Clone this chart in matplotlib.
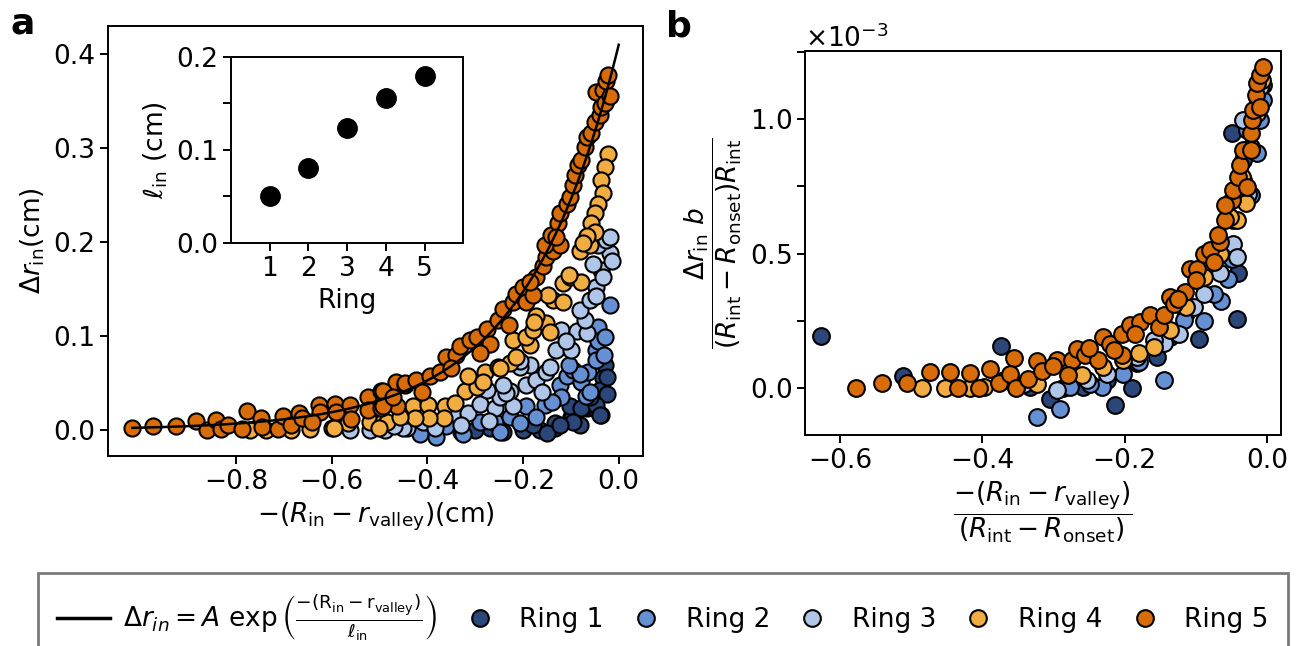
import numpy as np
import matplotlib
matplotlib.use("Agg")
import matplotlib.pyplot as plt
from matplotlib.lines import Line2D
from matplotlib.ticker import MultipleLocator, ScalarFormatter

plt.rcParams["font.family"] = ["DejaVu Sans"]
plt.rcParams["font.size"] = 19
plt.rcParams["axes.linewidth"] = 1.4
for ax_name in ["xtick", "ytick"]:
    plt.rcParams[ax_name + ".major.size"] = 6
    plt.rcParams[ax_name + ".major.width"] = 1.4
    plt.rcParams[ax_name + ".minor.size"] = 6
    plt.rcParams[ax_name + ".minor.width"] = 1.4

ring_names = ["Ring 1", "Ring 2", "Ring 3", "Ring 4", "Ring 5"]
ring_colors = ["#2b4678", "#6690d4", "#b0c6e8", "#f2ad42", "#d86c08"]

# panel a: -(R_in - r_valley) [cm], delta r_in [cm]
a_ring1 = [(-0.029, 0.069), (-0.033, 0.055), (-0.040, 0.043), (-0.036, 0.016), (-0.067, 0.023),
           (-0.099, 0.014), (-0.081, 0.005), (-0.134, 0.002), (-0.165, 0.000), (-0.200, 0.000),
           (-0.242, -0.002), (-0.269, 0.002), (-0.025, 0.056), (-0.025, 0.038), (-0.047, 0.022),
           (-0.076, 0.023), (-0.098, 0.013), (-0.134, 0.007), (-0.150, -0.003), (-0.102, 0.025),
           (-0.078, 0.023), (-0.047, 0.027), (-0.040, 0.016), (-0.095, 0.009), (-0.123, 0.005),
           (-0.300, 0.000), (-0.330, -0.002), (-0.180, 0.005), (-0.060, 0.035)]
a_ring2 = [(-0.416, -0.004), (-0.395, 0.007), (-0.325, -0.004), (-0.290, 0.009), (-0.259, 0.009),
           (-0.228, 0.014), (-0.193, 0.025), (-0.155, 0.027), (-0.123, 0.048), (-0.109, 0.057),
           (-0.095, 0.064), (-0.078, 0.051), (-0.064, 0.062), (-0.047, 0.085), (-0.047, 0.108),
           (-0.019, 0.133), (-0.043, 0.110), (-0.081, 0.060), (-0.120, 0.035), (-0.172, 0.014),
           (-0.207, 0.007), (-0.249, -0.002), (-0.360, 0.004), (-0.044, 0.095), (-0.029, 0.099),
           (-0.047, 0.075), (-0.069, 0.036), (-0.104, 0.069), (-0.381, -0.007), (-0.140, 0.030),
           (-0.060, 0.040), (-0.030, 0.080)]
a_ring3 = [(-0.489, 0.000), (-0.443, 0.002), (-0.409, 0.009), (-0.384, 0.002), (-0.346, 0.018),
           (-0.315, 0.018), (-0.290, 0.028), (-0.259, 0.023), (-0.249, 0.035), (-0.228, 0.041),
           (-0.193, 0.048), (-0.172, 0.053), (-0.186, 0.069), (-0.151, 0.062), (-0.144, 0.067),
           (-0.207, 0.067), (-0.130, 0.085), (-0.099, 0.085), (-0.120, 0.106), (-0.088, 0.105),
           (-0.067, 0.103), (-0.071, 0.117), (-0.081, 0.128), (-0.061, 0.138), (-0.047, 0.152),
           (-0.036, 0.170), (-0.019, 0.188), (-0.054, 0.177), (-0.043, 0.197), (-0.026, 0.202),
           (-0.018, 0.205), (-0.015, 0.180), (-0.033, 0.163), (-0.047, 0.143), (-0.451, 0.002),
           (-0.562, 0.000), (-0.520, 0.000), (-0.470, 0.004), (-0.110, 0.095), (-0.160, 0.040),
           (-0.220, 0.025), (-0.270, 0.010), (-0.330, 0.005), (-0.235, 0.039), (-0.207, 0.073),
           (-0.242, 0.048), (-0.276, 0.043)]
a_ring4 = [(-0.771, 0.000), (-0.736, 0.000), (-0.684, 0.000), (-0.645, 0.001), (-0.600, 0.002),
           (-0.565, 0.007), (-0.520, 0.009), (-0.492, 0.009), (-0.443, 0.016), (-0.485, 0.009),
           (-0.430, 0.025), (-0.398, 0.027), (-0.363, 0.025), (-0.322, 0.041), (-0.297, 0.046),
           (-0.315, 0.057), (-0.280, 0.062), (-0.252, 0.067), (-0.228, 0.071), (-0.214, 0.078),
           (-0.186, 0.090), (-0.221, 0.096), (-0.193, 0.099), (-0.179, 0.106), (-0.151, 0.114),
           (-0.172, 0.121), (-0.137, 0.138), (-0.116, 0.136), (-0.148, 0.144), (-0.116, 0.156),
           (-0.102, 0.163), (-0.078, 0.158), (-0.081, 0.190), (-0.061, 0.197), (-0.022, 0.294),
           (-0.029, 0.280), (-0.036, 0.266), (-0.033, 0.252), (-0.043, 0.241), (-0.050, 0.231),
           (-0.057, 0.220), (-0.050, 0.211), (-0.067, 0.206), (-0.075, 0.199), (-0.104, 0.165),
           (-0.144, 0.104), (-0.177, 0.115), (-0.249, 0.066), (-0.284, 0.051), (-0.343, 0.029),
           (-0.364, 0.013), (-0.397, 0.013), (-0.425, 0.013), (-0.457, 0.014), (-0.501, 0.002),
           (-0.594, 0.002)]
a_ring5 = [(-1.016, 0.002), (-0.973, 0.004), (-0.925, 0.004), (-0.884, 0.010), (-0.861, 0.000),
           (-0.842, 0.011), (-0.830, 0.001), (-0.816, 0.005), (-0.788, 0.001), (-0.776, 0.020),
           (-0.748, 0.013), (-0.746, 0.003), (-0.712, 0.001), (-0.701, 0.015), (-0.684, 0.005),
           (-0.668, 0.018), (-0.661, 0.013), (-0.626, 0.027), (-0.625, 0.019), (-0.593, 0.028),
           (-0.590, 0.019), (-0.562, 0.027), (-0.524, 0.035), (-0.524, 0.021), (-0.496, 0.042),
           (-0.496, 0.023), (-0.466, 0.051), (-0.464, 0.025), (-0.447, 0.048), (-0.492, 0.041),
           (-0.492, 0.025), (-0.471, 0.035), (-0.447, 0.050), (-0.423, 0.053), (-0.395, 0.057),
           (-0.374, 0.062), (-0.360, 0.078), (-0.339, 0.080), (-0.332, 0.089), (-0.311, 0.096),
           (-0.297, 0.099), (-0.276, 0.108), (-0.269, 0.092), (-0.252, 0.117), (-0.242, 0.129),
           (-0.221, 0.136), (-0.214, 0.145), (-0.200, 0.152), (-0.193, 0.136), (-0.179, 0.144),
           (-0.172, 0.163), (-0.158, 0.174), (-0.151, 0.184), (-0.137, 0.191), (-0.123, 0.197),
           (-0.155, 0.197), (-0.141, 0.207), (-0.127, 0.220), (-0.123, 0.231), (-0.109, 0.241),
           (-0.102, 0.248), (-0.095, 0.261), (-0.092, 0.271), (-0.085, 0.282), (-0.078, 0.287),
           (-0.071, 0.301), (-0.067, 0.312), (-0.057, 0.316), (-0.050, 0.328), (-0.040, 0.335),
           (-0.036, 0.344), (-0.047, 0.360), (-0.033, 0.362), (-0.026, 0.371), (-0.022, 0.378),
           (-0.029, 0.348), (-0.019, 0.355), (-0.410, 0.040), (-0.350, 0.066), (-0.290, 0.082),
           (-0.230, 0.112), (-0.185, 0.158), (-0.130, 0.205), (-0.560, 0.012), (-0.640, 0.008)]

# fit curve of panel a
fit_A = 0.41
fit_len = 0.195

# inset: decay length per ring
inset_ring = [1, 2, 3, 4, 5]
inset_len = [0.050, 0.081, 0.124, 0.156, 0.179]

# panel b: scaled distance, scaled delta r_in (units of 1e-3)
b_ring1 = [(-0.627, 0.192), (-0.373, 0.155), (-0.511, 0.043), (-0.305, -0.040), (-0.258, 0.004),
           (-0.213, -0.065), (-0.190, 0.000), (-0.155, 0.115), (-0.096, 0.181), (-0.042, 0.256),
           (-0.040, 0.429), (-0.049, 0.950), (-0.023, 0.996), (-0.014, 1.083), (-0.005, 1.127),
           (-0.033, 0.847), (-0.047, 0.624), (-0.113, 0.277), (-0.136, 0.190), (-0.183, 0.091),
           (-0.225, 0.029), (-0.286, -0.002), (-0.333, 0.004)]
b_ring2 = [(-0.323, -0.108), (-0.291, -0.077), (-0.232, 0.004), (-0.277, 0.004), (-0.144, 0.031),
           (-0.180, 0.097), (-0.089, 0.248), (-0.065, 0.324), (-0.054, 0.407), (-0.049, 0.481),
           (-0.023, 0.717), (-0.014, 0.872), (-0.009, 0.996), (-0.033, 0.773), (-0.075, 0.351),
           (-0.117, 0.252), (-0.202, 0.053), (-0.248, 0.016), (-0.005, 1.071), (-0.028, 0.959)]
b_ring3 = [(-0.295, -0.006), (-0.144, 0.167), (-0.124, 0.202), (-0.047, 0.537), (-0.042, 0.488),
           (-0.026, 0.723), (-0.021, 0.996), (-0.033, 0.996), (-0.009, 1.120), (-0.066, 0.426),
           (-0.103, 0.301), (-0.159, 0.177), (-0.183, 0.115), (-0.225, 0.053), (-0.253, 0.029),
           (-0.342, 0.016), (-0.089, 0.351)]
b_ring4 = [(-0.484, 0.000), (-0.452, 0.000), (-0.398, 0.004), (-0.323, 0.016), (-0.260, 0.047),
           (-0.180, 0.130), (-0.136, 0.215), (-0.113, 0.301), (-0.089, 0.413), (-0.066, 0.500),
           (-0.030, 0.686), (-0.035, 0.785), (-0.023, 0.897), (-0.014, 1.021), (-0.007, 1.145),
           (-0.042, 0.624), (-0.052, 0.636), (-0.230, 0.078), (-0.202, 0.103), (-0.159, 0.153),
           (-0.370, 0.029), (-0.417, 0.000)]
b_ring5 = [(-0.578, 0.000), (-0.541, 0.020), (-0.506, 0.019), (-0.474, 0.058), (-0.445, 0.058),
           (-0.434, 0.000), (-0.417, 0.056), (-0.404, 0.000), (-0.389, 0.072), (-0.377, 0.019),
           (-0.356, 0.113), (-0.361, 0.053), (-0.352, 0.000), (-0.335, 0.035), (-0.323, 0.100),
           (-0.316, 0.062), (-0.295, 0.103), (-0.274, 0.103), (-0.267, 0.146), (-0.256, 0.122),
           (-0.237, 0.103), (-0.230, 0.190), (-0.220, 0.165), (-0.204, 0.122), (-0.204, 0.202),
           (-0.192, 0.233), (-0.178, 0.246), (-0.164, 0.270), (-0.152, 0.227), (-0.145, 0.270),
           (-0.136, 0.339), (-0.131, 0.314), (-0.115, 0.357), (-0.108, 0.444), (-0.098, 0.444),
           (-0.089, 0.500), (-0.080, 0.512), (-0.066, 0.543), (-0.068, 0.568), (-0.059, 0.624),
           (-0.049, 0.698), (-0.047, 0.736), (-0.040, 0.785), (-0.038, 0.829), (-0.033, 0.885),
           (-0.023, 0.885), (-0.023, 0.947), (-0.021, 0.996), (-0.019, 1.034), (-0.016, 1.089),
           (-0.014, 1.133), (-0.009, 1.164), (-0.006, 1.195), (-0.009, 1.046), (-0.028, 0.748),
           (-0.059, 0.680), (-0.250, 0.150), (-0.185, 0.200), (-0.125, 0.330), (-0.100, 0.400),
           (-0.075, 0.470), (-0.300, 0.080), (-0.280, 0.050), (-0.215, 0.140)]

panel_a = [a_ring1, a_ring2, a_ring3, a_ring4, a_ring5]
panel_b = [b_ring1, b_ring2, b_ring3, b_ring4, b_ring5]

fig = plt.figure(figsize=(13.05, 6.46), dpi=100)
ax_a = fig.add_axes([0.0828, 0.2941, 0.4100, 0.6657])
ax_b = fig.add_axes([0.6169, 0.3266, 0.3648, 0.5944])
ax_in = fig.add_axes([0.1770, 0.6240, 0.1780, 0.2880])

# panel a
for pts, col in zip(panel_a, ring_colors):
    xy = np.array(pts)
    ax_a.scatter(xy[:, 0], xy[:, 1], s=135, c=col, edgecolors="black", linewidths=1.5, zorder=2)
x_fit = np.linspace(np.array(a_ring5)[:, 0].min(), 0, 300)
ax_a.plot(x_fit, fit_A * np.exp(x_fit / fit_len), color="black", lw=1.8, zorder=3)
ax_a.set_xlim(-1.067, 0.051)
ax_a.set_ylim(-0.0277, 0.43)
ax_a.set_xticks([-0.8, -0.6, -0.4, -0.2, 0.0])
ax_a.set_yticks([0.0, 0.1, 0.2, 0.3, 0.4])
ax_a.set_xlabel(r"$-(R_{\mathrm{in}} - r_{\mathrm{valley}})$(cm)")
ax_a.set_ylabel(r"$\Delta r_{\mathrm{in}}$(cm)")

# inset
ax_in.plot(inset_ring, inset_len, "o", color="black", ms=14)
ax_in.set_xlim(0, 6)
ax_in.set_ylim(0, 0.2)
ax_in.set_xticks(inset_ring)
ax_in.yaxis.set_major_locator(MultipleLocator(0.1))
ax_in.yaxis.set_minor_locator(MultipleLocator(0.05))
ax_in.set_xlabel("Ring")
ax_in.set_ylabel(r"$\ell_{\mathrm{in}}$ (cm)")

# panel b
for pts, col in zip(panel_b, ring_colors):
    xy = np.array(pts)
    ax_b.scatter(xy[:, 0], xy[:, 1] * 1e-3, s=145, c=col, edgecolors="black", linewidths=1.5)
ax_b.set_xlim(-0.649, 0.020)
ax_b.set_ylim(-0.175e-3, 1.253e-3)
ax_b.set_xticks([-0.6, -0.4, -0.2, 0.0])
ax_b.yaxis.set_major_locator(MultipleLocator(0.5e-3))
ax_b.yaxis.set_minor_locator(MultipleLocator(0.25e-3))
fmt = ScalarFormatter(useMathText=True)
fmt.set_powerlimits((-2, 2))
ax_b.yaxis.set_major_formatter(fmt)
ax_b.set_xlabel(r"$\dfrac{-(R_{\mathrm{in}} - r_{\mathrm{valley}})}{(R_{\mathrm{int}} - R_{\mathrm{onset}})}$")
ax_b.set_ylabel(r"$\dfrac{\Delta r_{\mathrm{in}}\ b}{(R_{\mathrm{int}} - R_{\mathrm{onset}})R_{\mathrm{int}}}$")

fig.text(0.008, 0.99, "a", fontsize=26, fontweight="bold", va="top")
fig.text(0.510, 0.985, "b", fontsize=26, fontweight="bold", va="top")

# legend
handles = [Line2D([], [], color="black", lw=2.5)]
labels = [r"$\Delta r_{in} = A\ \exp\left(\frac{-(\mathrm{R_{in}} - \mathrm{r_{valley}})}{\ell_{\mathrm{in}}}\right)$"]
for name, col in zip(ring_names, ring_colors):
    handles.append(Line2D([], [], ls="none", marker="o", ms=12, markerfacecolor=col,
                          markeredgecolor="black", markeredgewidth=1.5))
    labels.append(name)
leg = fig.legend(handles, labels, loc="upper center", bbox_to_anchor=(0.508, 0.133), ncol=6,
                 fontsize=19, fancybox=False, handletextpad=0.5, columnspacing=0.6,
                 borderpad=0.75)
leg.get_frame().set_edgecolor("#7a7a7a")
leg.get_frame().set_linewidth(2)
leg.get_frame().set_alpha(1)

fig.savefig("out.png", dpi=100)
